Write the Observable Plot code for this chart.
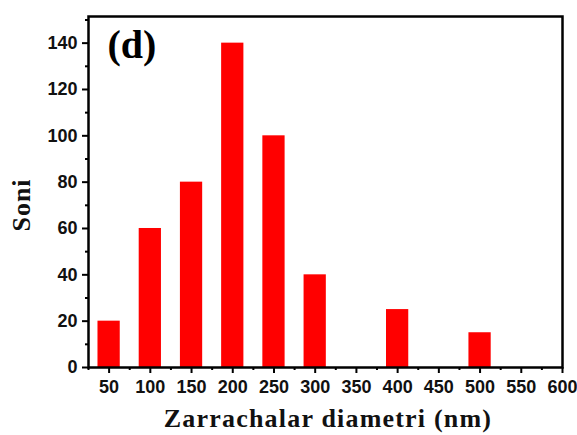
<!DOCTYPE html>
<html>
<head>
<meta charset="utf-8">
<script src="https://cdn.jsdelivr.net/npm/d3@7"></script>
<script src="https://cdn.jsdelivr.net/npm/@observablehq/plot@0.6"></script>
<style>
  body { margin: 0; background: #fff; }
  #chart { width: 577px; height: 435px; }
</style>
</head>
<body>
<div id="chart"></div>
<script>
// Data
const diameters = [50, 100, 150, 200, 250, 300, 400, 500];
const counts = [20, 60, 80, 140, 100, 40, 25, 15];
const xMajorTicks = [50, 100, 150, 200, 250, 300, 350, 400, 450, 500, 550, 600];
const yMajorTicks = [0, 20, 40, 60, 80, 100, 120, 140];
const binWidth = 27;
const panelLabel = "(d)";
const xLabel = "Zarrachalar diametri (nm)";
const yLabel = "Soni";

const data = diameters.map((d, i) => ({ d, c: counts[i] }));
const xMinor = d3.range(25, 601, 25).filter(v => !xMajorTicks.includes(v));
const yMinor = d3.range(10, 151, 20);

const tickFont = "'Liberation Sans', Arial, sans-serif";
const serif = "'Liberation Serif', 'Times New Roman', serif";

const chart = Plot.plot({
  width: 577,
  height: 435,
  marginLeft: 88,
  marginRight: 15,
  marginTop: 16,
  marginBottom: 68,
  style: { fontFamily: tickFont, background: "#fff", overflow: "visible" },
  x: { domain: [25, 600] },
  y: { domain: [0, 151.5] },
  marks: [
    Plot.rect(data, {
      x1: d => d.d - binWidth / 2,
      x2: d => d.d + binWidth / 2,
      y1: 0,
      y2: "c",
      fill: "#ff0000"
    }),
    Plot.frame({ stroke: "#000", strokeWidth: 2.5 }),
    Plot.axisX({
      ticks: xMajorTicks, tickSize: 6, tickPadding: 7, strokeWidth: 2,
      fontSize: 18, fontWeight: "bold", fill: "#111", label: null
    }),
    Plot.axisX({ ticks: xMinor, tickSize: 3, strokeWidth: 2, text: null, label: null }),
    Plot.axisY({
      ticks: yMajorTicks, tickSize: 6, tickPadding: 5, strokeWidth: 2,
      fontSize: 18, fontWeight: "bold", fill: "#111", label: null
    }),
    Plot.axisY({ ticks: yMinor, tickSize: 3, strokeWidth: 2, text: null, label: null }),
    Plot.text([panelLabel], {
      frameAnchor: "top-left", dx: 19, dy: 13, text: d => d,
      fontSize: 40, fontWeight: "bold", fontFamily: serif, textAnchor: "start", lineAnchor: "top", fill: "#000"
    })
  ]
});

// axis titles as real SVG text
const svg = d3.select(chart);
svg.append("text")
  .attr("x", 328).attr("y", 427)
  .attr("text-anchor", "middle")
  .attr("font-family", serif).attr("font-weight", "bold").attr("font-size", 26)
  .attr("letter-spacing", "1.2px")
  .attr("fill", "#111")
  .text(xLabel);
svg.append("text")
  .attr("transform", "translate(30,205) rotate(-90)")
  .attr("text-anchor", "middle")
  .attr("font-family", serif).attr("font-weight", "bold").attr("font-size", 26)
  .attr("letter-spacing", "1px")
  .attr("fill", "#111")
  .text(yLabel);

document.getElementById("chart").appendChild(chart);
</script>
</body>
</html>
